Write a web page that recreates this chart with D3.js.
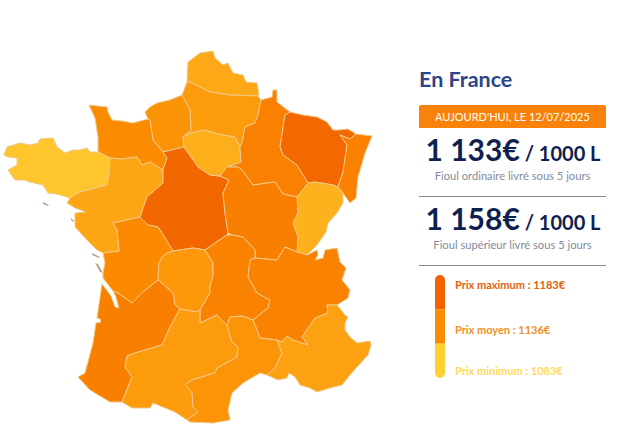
<!DOCTYPE html>
<html>
<head>
<meta charset="utf-8">
<style>
  html, body { margin: 0; padding: 0; background: #fff; }
  svg { display: block; }
  text { font-family: Lato, sans-serif; }
</style>
<script src="https://cdn.jsdelivr.net/npm/d3@7"></script>
</head>
<body>
<svg id="chart" width="625" height="444"></svg>
<script>
// prices per region, estimated from the map colours
const regionNames = ["Nord-Pas-de-Calais", "Picardie", "Haute-Normandie", "Basse-Normandie", "Bretagne",
  "Pays de la Loire", "Centre", "Ile-de-France", "Champagne-Ardenne", "Lorraine", "Alsace", "Franche-Comte",
  "Bourgogne", "Poitou-Charentes", "Limousin", "Auvergne", "Rhone-Alpes", "Aquitaine", "Midi-Pyrenees",
  "Languedoc-Roussillon", "PACA"];
const regionPrices = [1114, 1124, 1130, 1135, 1091, 1115, 1178, 1108, 1149, 1177, 1149, 1107,
  1150, 1137, 1126, 1147, 1147, 1150, 1124, 1129, 1119];

// outlines, in map units
const regionRings = [
  [[187,82],[188,62],[200,53],[213,51],[215,58],[223,65],[228,63],[233,73],[243,75],[246,82],[257,83],[259,95],[258,96],[230,95],[210,92],[190,82]],
  [[187,82],[190,82],[210,92],[230,95],[258,96],[261,100],[258,115],[255,123],[245,127],[242,143],[240,147],[235,137],[223,135],[203,130],[191,133],[183,137],[191,130],[190,110],[182,95]],
  [[148,119],[145,112],[150,107],[157,103],[170,100],[182,95],[190,110],[191,130],[183,137],[184,147],[163,152],[153,140],[150,120]],
  [[89,105],[98,106],[107,107],[108,112],[112,120],[122,121],[133,123],[148,119],[150,120],[153,140],[163,152],[167,158],[163,170],[150,162],[142,165],[137,157],[122,159],[110,158],[98,152],[98,137],[95,118]],
  [[7,147],[20,143],[30,145],[38,143],[40,139],[53,138],[57,147],[65,153],[73,150],[80,150],[87,148],[90,152],[98,152],[110,158],[109,173],[107,185],[80,192],[70,198],[57,194],[48,193],[43,185],[30,182],[25,180],[15,180],[8,170],[17,165],[17,158],[8,157],[4,155]],
  [[110,158],[122,159],[137,157],[142,165],[150,162],[163,170],[163,183],[147,197],[140,217],[113,223],[117,230],[118,240],[119,251],[103,253],[97,250],[87,240],[75,227],[75,213],[86,212],[75,208],[67,203],[70,198],[80,192],[107,185],[109,173]],
  [[163,170],[167,158],[163,152],[184,147],[198,167],[210,175],[220,176],[229,180],[223,193],[225,213],[228,233],[227,235],[215,243],[205,250],[193,248],[173,251],[160,230],[158,227],[148,225],[140,217],[147,197],[163,183]],
  [[183,137],[191,133],[203,130],[223,135],[235,137],[240,147],[241,162],[227,167],[220,176],[210,175],[198,167],[184,147]],
  [[261,100],[272,97],[273,90],[277,90],[277,102],[290,112],[285,115],[280,147],[283,155],[297,165],[308,183],[297,197],[283,194],[275,182],[253,185],[242,170],[238,167],[227,167],[241,162],[240,147],[242,143],[245,127],[255,123],[258,115]],
  [[285,115],[290,112],[303,115],[317,117],[327,122],[333,130],[338,130],[348,129],[356,134],[350,139],[340,135],[347,145],[343,172],[338,187],[333,185],[315,182],[308,183],[297,165],[283,155],[280,147]],
  [[340,135],[350,139],[356,134],[372,136],[365,153],[358,177],[356,198],[350,203],[343,193],[338,187],[343,172],[347,145]],
  [[308,183],[315,182],[333,185],[338,187],[343,193],[343,203],[337,213],[328,223],[326,232],[317,245],[307,255],[297,252],[298,237],[293,223],[298,213],[297,197]],
  [[227,167],[238,167],[242,170],[253,185],[275,182],[283,194],[297,197],[298,213],[293,223],[298,237],[297,252],[285,247],[280,255],[277,260],[255,258],[255,250],[243,237],[232,235],[228,233],[225,213],[223,193],[229,180],[220,176]],
  [[113,223],[140,217],[148,225],[158,227],[160,230],[173,251],[167,253],[162,257],[159,263],[158,280],[143,292],[132,303],[118,293],[113,291],[103,278],[103,273],[105,263],[103,253],[119,251],[118,240],[117,230]],
  [[162,257],[167,253],[173,251],[193,248],[205,250],[213,263],[213,275],[210,287],[210,293],[200,310],[197,312],[180,309],[175,305],[173,293],[158,280],[159,263]],
  [[205,250],[215,243],[227,235],[232,235],[243,237],[255,250],[255,258],[250,260],[248,277],[257,293],[270,300],[268,308],[253,320],[242,316],[230,317],[227,325],[217,315],[200,323],[200,310],[210,293],[210,287],[213,275],[213,263]],
  [[255,258],[277,260],[280,255],[285,247],[297,252],[307,255],[317,250],[318,255],[315,260],[323,258],[325,250],[337,248],[340,262],[346,268],[342,280],[350,290],[348,298],[337,305],[327,305],[328,313],[315,318],[302,337],[308,345],[293,340],[287,336],[282,342],[277,340],[260,338],[253,320],[268,308],[270,300],[257,293],[248,277],[250,260]],
  [[102,284],[111,296],[115,307],[119,308],[116,297],[113,291],[118,293],[132,303],[143,292],[158,280],[173,293],[175,305],[180,309],[170,327],[162,345],[135,353],[127,356],[125,367],[132,377],[128,387],[122,402],[110,402],[90,390],[78,377],[85,373],[93,343],[96,323],[101,322],[100,319],[97,318]],
  [[180,309],[197,312],[200,310],[200,323],[217,315],[227,325],[232,342],[238,347],[237,357],[217,368],[215,373],[192,380],[185,385],[192,392],[193,407],[198,412],[187,420],[175,412],[153,403],[150,408],[132,408],[122,402],[128,387],[132,377],[125,367],[127,356],[135,353],[162,345],[170,327]],
  [[227,325],[230,317],[242,316],[253,320],[260,338],[277,340],[282,353],[275,368],[267,375],[260,373],[243,383],[232,393],[228,410],[230,420],[213,423],[190,422],[187,420],[198,412],[193,407],[192,392],[185,385],[192,380],[215,373],[217,368],[237,357],[238,347],[232,342]],
  [[277,340],[282,342],[287,336],[293,340],[308,345],[302,337],[315,318],[328,313],[327,305],[337,305],[345,315],[348,317],[345,323],[345,330],[350,337],[357,343],[370,341],[371,345],[368,355],[357,367],[350,375],[342,385],[330,388],[317,392],[310,388],[300,385],[295,377],[289,373],[287,378],[278,380],[267,375],[275,368],[282,353]]
];

// Re, Oleron, Belle-Ile, Noirmoutier
const islandRings = [
  [[92,253],[100,257],[99,258],[92,255]],
  [[95,263],[98,264],[103,273],[100,272]],
  [[43,202],[49,205],[48,206],[43,204]],
  [[71,218],[74,221],[73,222],[71,220]]
];

const panelTitle = "En France";
const dateLabel = "AUJOURD'HUI, LE 12/07/2025";
const priceValues = ["1 133€", "1 158€"];
const priceUnit = " / 1000 L";
const priceNotes = ["Fioul ordinaire livré sous 5 jours", "Fioul supérieur livré sous 5 jours"];
const legendNames = ["Prix maximum", "Prix moyen", "Prix minimum"];
const legendValues = [1183, 1136, 1083];

const svg = d3.select("#chart");

const color = d3.scaleLinear()
  .domain([1083, 1136, 1183])
  .range(["#ffd034", "#fb8b00", "#f26300"]);

// ****************** map ***************************
const toFeature = (ring) => ({ type: "Feature", geometry: { type: "Polygon", coordinates: [ring.concat([ring[0]])] } });

const projection = d3.geoIdentity();
const path = d3.geoPath(projection);

const map = svg.append("g");

map.selectAll("path.island")
  .data(islandRings.map(toFeature))
  .join("path")
  .attr("class", "island")
  .attr("d", path)
  .attr("fill", "#b9a88c");

map.selectAll("path.region")
  .data(regionRings.map(function (ring, i) {
    const f = toFeature(ring);
    f.properties = { name: regionNames[i], price: regionPrices[i] };
    return f;
  }))
  .join("path")
  .attr("class", "region")
  .attr("d", path)
  .attr("fill", function (d) { return color(d.properties.price); })
  .attr("stroke", "#efc98a")
  .attr("stroke-width", 1)
  .attr("stroke-linejoin", "round");

// ****************** right panel ***************************
const panelLeft = 419, panelRight = 606, panelMid = (panelLeft + panelRight) / 2;

svg.append("text")
  .attr("x", panelLeft)
  .attr("y", 87)
  .attr("font-size", 21.5)
  .attr("font-weight", 700)
  .attr("fill", "#2b4587")
  .text(panelTitle);

svg.append("path")
  .attr("d", "M" + panelLeft + ",128V107q0,-2 2,-2H" + (panelRight - 2) + "q2,0 2,2V128Z")
  .attr("fill", "#f9830a");

svg.append("text")
  .attr("x", panelMid)
  .attr("y", 121)
  .attr("text-anchor", "middle")
  .attr("font-size", 11)
  .attr("fill", "#fff")
  .text(dateLabel);

const priceRows = d3.scalePoint().domain(d3.range(priceValues.length)).range([0, 69]);

const rows = svg.selectAll("g.price")
  .data(priceValues)
  .join("g")
  .attr("class", "price")
  .attr("transform", function (d, i) { return "translate(0," + priceRows(i) + ")"; });

const priceText = rows.append("text")
  .attr("x", panelMid + 0.5)
  .attr("y", 161)
  .attr("text-anchor", "middle")
  .attr("fill", "#0f1f50")
  .attr("font-weight", 700);

priceText.append("tspan").attr("font-size", 30).text(function (d) { return d; });
priceText.append("tspan").attr("font-size", 20).text(priceUnit);

rows.append("text")
  .attr("x", panelMid)
  .attr("y", 180)
  .attr("text-anchor", "middle")
  .attr("font-size", 11.2)
  .attr("fill", "#858b9c")
  .text(function (d, i) { return priceNotes[i]; });

rows.append("line")
  .attr("x1", panelLeft)
  .attr("x2", panelRight)
  .attr("y1", 196.5)
  .attr("y2", 196.5)
  .attr("stroke", "#8a8a8a");

// ****************** legend ***************************
const legendY = d3.scaleBand().domain(legendValues).range([275, 378]);

svg.append("clipPath")
  .attr("id", "legend-clip")
  .append("rect")
  .attr("x", 435)
  .attr("y", 275)
  .attr("width", 10)
  .attr("height", 103)
  .attr("rx", 5);

svg.append("g")
  .attr("clip-path", "url(#legend-clip)")
  .selectAll("rect")
  .data(legendValues)
  .join("rect")
  .attr("x", 435)
  .attr("y", function (d) { return legendY(d); })
  .attr("width", 10)
  .attr("height", legendY.bandwidth())
  .attr("fill", function (d) { return color(d); });

const legendBaselines = d3.scaleOrdinal().domain(legendValues).range([289, 334, 375]);
const legendTextColors = ["#de6410", "#ee9024", "#ffd95e"];

svg.selectAll("text.legend")
  .data(legendValues)
  .join("text")
  .attr("class", "legend")
  .attr("x", 455)
  .attr("y", function (d) { return legendBaselines(d); })
  .attr("font-size", 11)
  .attr("font-weight", 700)
  .attr("fill", function (d, i) { return legendTextColors[i]; })
  .text(function (d, i) { return legendNames[i] + " : " + d + "€"; });
</script>
</body>
</html>
